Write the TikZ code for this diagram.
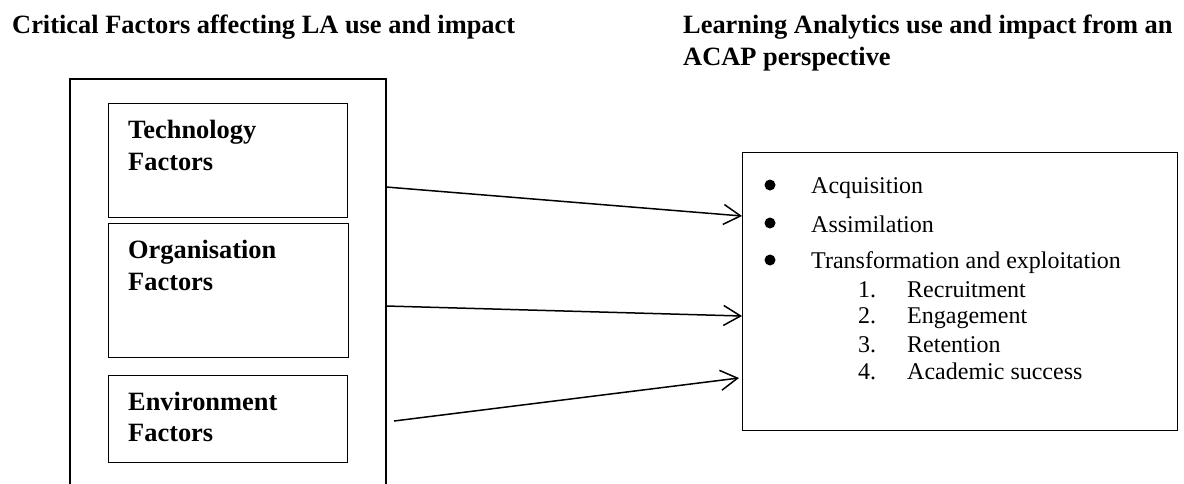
\documentclass[tikz,border=0pt]{standalone}
\usepackage{fontspec}
\setmainfont{Liberation Serif}
\usetikzlibrary{arrows.meta}
\tikzset{
  frame/.style={draw, line width=1.4pt},
  factorbox/.style={draw, line width=1.2pt, rectangle, inner sep=0pt, anchor=north west},
  heading/.style={anchor=base west, inner sep=0pt, font=\fontsize{26.4}{31}\selectfont\bfseries},
  factorlabel/.style={anchor=base west, inner sep=0pt, font=\fontsize{26.4}{31}\selectfont\bfseries},
  item/.style={anchor=base west, inner sep=0pt, font=\fontsize{24}{27}\selectfont},
  dot/.style={fill, circle, inner sep=0pt, minimum size=11pt},
  link/.style={line width=1.5pt, -{Straight Barb[length=17pt,width=20pt,line width=1.5pt]}}
}
\begin{document}
\begin{tikzpicture}[x=1pt,y=-1pt]
\useasboundingbox (0,0) rectangle (1184,483);

% headings
\node[heading] (h1) at (12,33) {Critical Factors affecting LA use and impact};
\node[heading] (h2a) at (683,33) {Learning Analytics use and impact from an};
\node[heading] (h2b) at (683,65) {ACAP perspective};

% outer frame round the factor boxes (open at the bottom)
\coordinate (fbl) at (70,490);
\coordinate (ftr) at (386,79);
\coordinate (fbr) at (386,490);
\draw[frame] (fbl) |- (ftr) -- (fbr);

% factor boxes
\node[factorbox, minimum width=239pt, minimum height=114pt] (tech) at (108,103) {};
\node[factorbox, minimum width=240pt, minimum height=134pt] (org) at (108,223) {};
\node[factorbox, minimum width=239pt, minimum height=87pt] (env) at (108,375) {};

\node[factorlabel] (t1) at (128,138) {Technology};
\node[factorlabel] (t2) at (128,170) {Factors};
\node[factorlabel] (o1) at (128,258) {Organisation};
\node[factorlabel] (o2) at (128,290) {Factors};
\node[factorlabel] (e1) at (128,410) {Environment};
\node[factorlabel] (e2) at (128,441) {Factors};

% outcome box
\node[draw, line width=1.2pt, rectangle, inner sep=0pt, anchor=north west,
      minimum width=435pt, minimum height=278pt] (out) at (742,152) {};

\node[dot] (b1) at (770,185) {};
\node[dot] (b2) at (770,223) {};
\node[dot] (b3) at (770,260) {};
\node[item] (l1) at (811,193) {Acquisition};
\node[item] (l2) at (811,232) {Assimilation};
\node[item] (l3) at (811,268) {Transformation and exploitation};

\node[item] (n1) at (858,297) {1.};
\node[item] (n2) at (858,323) {2.};
\node[item] (n3) at (858,352) {3.};
\node[item] (n4) at (858,379) {4.};
\node[item] (s1) at (907,297) {Recruitment};
\node[item] (s2) at (907,323) {Engagement};
\node[item] (s3) at (907,352) {Retention};
\node[item] (s4) at (907,379) {Academic success};

% connectors from the factors to the outcome box
\coordinate (a1s) at (386,187);
\coordinate (a2s) at (386,306);
\coordinate (a3s) at (394,421);
\coordinate (a1e) at (742,216);
\coordinate (a2e) at (742,316);
\coordinate (a3e) at (739,378);
\draw[link] (a1s) -- (a1e);
\draw[link] (a2s) -- (a2e);
\draw[link] (a3s) -- (a3e);
\end{tikzpicture}
\end{document}
